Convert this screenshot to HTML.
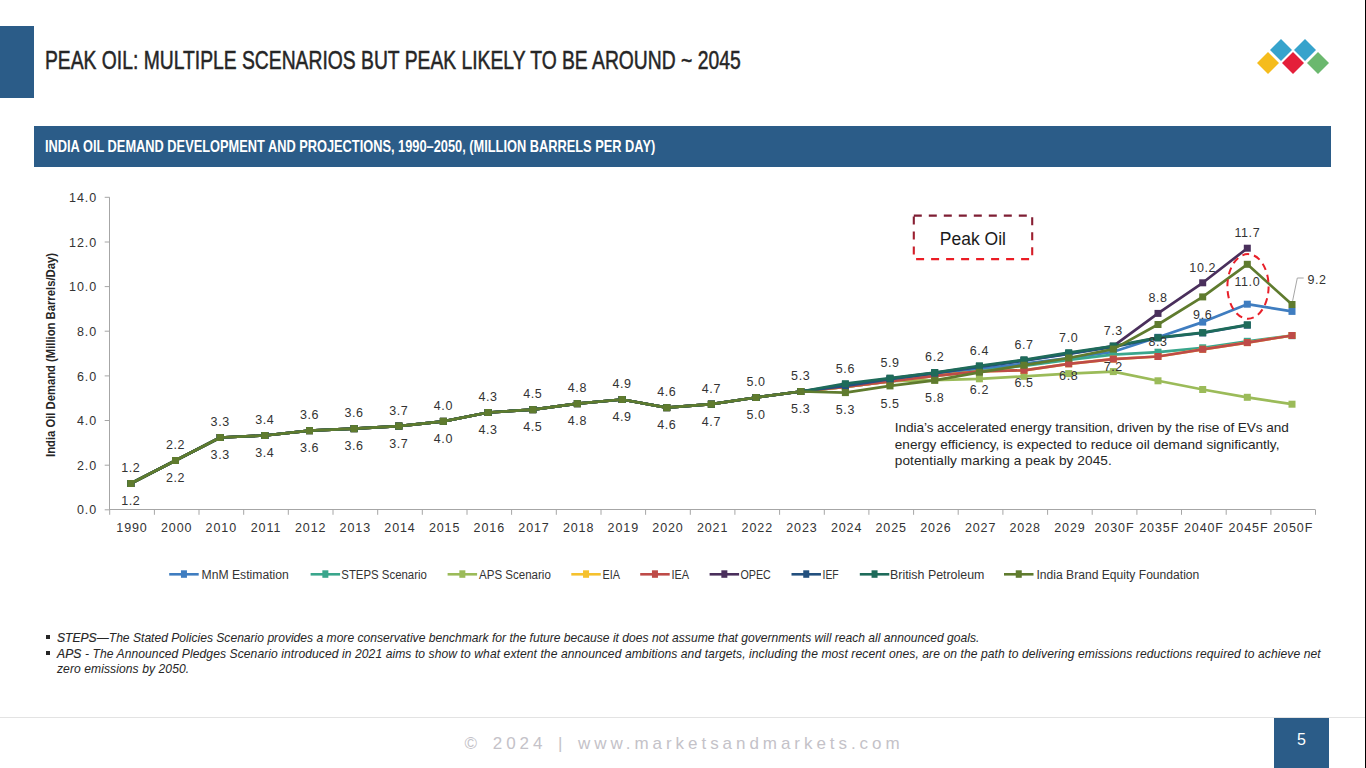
<!DOCTYPE html>
<html><head><meta charset="utf-8">
<style>
*{margin:0;padding:0;box-sizing:border-box}
html,body{width:1366px;height:768px;overflow:hidden;background:#fff}
body{position:relative;font-family:"Liberation Sans",sans-serif}
.abs{position:absolute;white-space:nowrap}
svg text{font-family:"Liberation Sans",sans-serif}
.ax{font-size:12.5px;fill:#333;letter-spacing:0.9px}
.dl{font-size:12.5px;fill:#333;letter-spacing:0.6px}
.lg{font-size:12px;fill:#333}
</style></head><body>
<div class="abs" style="left:0;top:26px;width:34px;height:72px;background:#2B5C88"></div>
<div class="abs" style="left:45.2px;top:46px;font-size:25px;line-height:29px;color:#262626;-webkit-text-stroke:0.5px #262626;transform:scaleX(0.772);transform-origin:0 0">PEAK OIL: MULTIPLE SCENARIOS BUT PEAK LIKELY TO BE AROUND ~ 2045</div>
<svg class="abs" style="left:1250px;top:32px" width="90" height="50" viewBox="1250 32 90 50">
<polygon points="1281,39 1292,50 1281,61 1270,50" fill="#36A3CC"/>
<polygon points="1305,39 1316,50 1305,61 1294,50" fill="#36A3CC"/>
<polygon points="1268,52 1279,63 1268,74 1257,63" fill="#F5BC1C"/>
<polygon points="1293,52 1304,63 1293,74 1282,63" fill="#E41F3A"/>
<polygon points="1318,52 1329,63 1318,74 1307,63" fill="#6BB86E"/>
</svg>
<div class="abs" style="left:34px;top:126px;width:1297px;height:41px;background:#2B5C88"></div>
<div class="abs" style="left:44.5px;top:136.7px;font-size:16.5px;line-height:19px;font-weight:bold;color:#fff;transform:scaleX(0.776);transform-origin:0 0">INDIA OIL DEMAND DEVELOPMENT AND PROJECTIONS, 1990–2050, (MILLION BARRELS PER DAY)</div>
<div class="abs" style="left:51px;top:354.6px;width:0;height:0"><div style="position:absolute;left:0;top:0;transform:translate(-50%,-50%) rotate(-90deg) scaleX(0.90);font-size:12.5px;line-height:14px;font-weight:bold;color:#262626;white-space:nowrap">India Oil Demand (Million Barrels/Day)</div></div>
<svg class="abs" style="left:0;top:0" width="1366" height="768" viewBox="0 0 1366 768">
<line x1="109.5" y1="197.3" x2="109.5" y2="509.8" stroke="#A6A6A6" stroke-width="1"/>
<line x1="109.7" y1="509.5" x2="1315.52" y2="509.5" stroke="#A6A6A6" stroke-width="1"/>
<line x1="104.7" y1="509.8" x2="109.7" y2="509.8" stroke="#A6A6A6" stroke-width="1"/>
<text x="97" y="514.4" text-anchor="end" class="ax">0.0</text>
<line x1="104.7" y1="465.2" x2="109.7" y2="465.2" stroke="#A6A6A6" stroke-width="1"/>
<text x="97" y="469.8" text-anchor="end" class="ax">2.0</text>
<line x1="104.7" y1="420.5" x2="109.7" y2="420.5" stroke="#A6A6A6" stroke-width="1"/>
<text x="97" y="425.1" text-anchor="end" class="ax">4.0</text>
<line x1="104.7" y1="375.9" x2="109.7" y2="375.9" stroke="#A6A6A6" stroke-width="1"/>
<text x="97" y="380.5" text-anchor="end" class="ax">6.0</text>
<line x1="104.7" y1="331.2" x2="109.7" y2="331.2" stroke="#A6A6A6" stroke-width="1"/>
<text x="97" y="335.8" text-anchor="end" class="ax">8.0</text>
<line x1="104.7" y1="286.6" x2="109.7" y2="286.6" stroke="#A6A6A6" stroke-width="1"/>
<text x="97" y="291.2" text-anchor="end" class="ax">10.0</text>
<line x1="104.7" y1="242.0" x2="109.7" y2="242.0" stroke="#A6A6A6" stroke-width="1"/>
<text x="97" y="246.6" text-anchor="end" class="ax">12.0</text>
<line x1="104.7" y1="197.3" x2="109.7" y2="197.3" stroke="#A6A6A6" stroke-width="1"/>
<text x="97" y="201.9" text-anchor="end" class="ax">14.0</text>
<line x1="109.7" y1="509.8" x2="109.7" y2="514.8" stroke="#A6A6A6" stroke-width="1"/>
<line x1="154.4" y1="509.8" x2="154.4" y2="514.8" stroke="#A6A6A6" stroke-width="1"/>
<line x1="199.0" y1="509.8" x2="199.0" y2="514.8" stroke="#A6A6A6" stroke-width="1"/>
<line x1="243.7" y1="509.8" x2="243.7" y2="514.8" stroke="#A6A6A6" stroke-width="1"/>
<line x1="288.3" y1="509.8" x2="288.3" y2="514.8" stroke="#A6A6A6" stroke-width="1"/>
<line x1="333.0" y1="509.8" x2="333.0" y2="514.8" stroke="#A6A6A6" stroke-width="1"/>
<line x1="377.7" y1="509.8" x2="377.7" y2="514.8" stroke="#A6A6A6" stroke-width="1"/>
<line x1="422.3" y1="509.8" x2="422.3" y2="514.8" stroke="#A6A6A6" stroke-width="1"/>
<line x1="467.0" y1="509.8" x2="467.0" y2="514.8" stroke="#A6A6A6" stroke-width="1"/>
<line x1="511.6" y1="509.8" x2="511.6" y2="514.8" stroke="#A6A6A6" stroke-width="1"/>
<line x1="556.3" y1="509.8" x2="556.3" y2="514.8" stroke="#A6A6A6" stroke-width="1"/>
<line x1="601.0" y1="509.8" x2="601.0" y2="514.8" stroke="#A6A6A6" stroke-width="1"/>
<line x1="645.6" y1="509.8" x2="645.6" y2="514.8" stroke="#A6A6A6" stroke-width="1"/>
<line x1="690.3" y1="509.8" x2="690.3" y2="514.8" stroke="#A6A6A6" stroke-width="1"/>
<line x1="734.9" y1="509.8" x2="734.9" y2="514.8" stroke="#A6A6A6" stroke-width="1"/>
<line x1="779.6" y1="509.8" x2="779.6" y2="514.8" stroke="#A6A6A6" stroke-width="1"/>
<line x1="824.3" y1="509.8" x2="824.3" y2="514.8" stroke="#A6A6A6" stroke-width="1"/>
<line x1="868.9" y1="509.8" x2="868.9" y2="514.8" stroke="#A6A6A6" stroke-width="1"/>
<line x1="913.6" y1="509.8" x2="913.6" y2="514.8" stroke="#A6A6A6" stroke-width="1"/>
<line x1="958.2" y1="509.8" x2="958.2" y2="514.8" stroke="#A6A6A6" stroke-width="1"/>
<line x1="1002.9" y1="509.8" x2="1002.9" y2="514.8" stroke="#A6A6A6" stroke-width="1"/>
<line x1="1047.6" y1="509.8" x2="1047.6" y2="514.8" stroke="#A6A6A6" stroke-width="1"/>
<line x1="1092.2" y1="509.8" x2="1092.2" y2="514.8" stroke="#A6A6A6" stroke-width="1"/>
<line x1="1136.9" y1="509.8" x2="1136.9" y2="514.8" stroke="#A6A6A6" stroke-width="1"/>
<line x1="1181.5" y1="509.8" x2="1181.5" y2="514.8" stroke="#A6A6A6" stroke-width="1"/>
<line x1="1226.2" y1="509.8" x2="1226.2" y2="514.8" stroke="#A6A6A6" stroke-width="1"/>
<line x1="1270.9" y1="509.8" x2="1270.9" y2="514.8" stroke="#A6A6A6" stroke-width="1"/>
<line x1="1315.5" y1="509.8" x2="1315.5" y2="514.8" stroke="#A6A6A6" stroke-width="1"/>
<text x="132.0" y="531.6" text-anchor="middle" class="ax">1990</text>
<text x="176.7" y="531.6" text-anchor="middle" class="ax">2000</text>
<text x="221.3" y="531.6" text-anchor="middle" class="ax">2010</text>
<text x="266.0" y="531.6" text-anchor="middle" class="ax">2011</text>
<text x="310.7" y="531.6" text-anchor="middle" class="ax">2012</text>
<text x="355.3" y="531.6" text-anchor="middle" class="ax">2013</text>
<text x="400.0" y="531.6" text-anchor="middle" class="ax">2014</text>
<text x="444.6" y="531.6" text-anchor="middle" class="ax">2015</text>
<text x="489.3" y="531.6" text-anchor="middle" class="ax">2016</text>
<text x="534.0" y="531.6" text-anchor="middle" class="ax">2017</text>
<text x="578.6" y="531.6" text-anchor="middle" class="ax">2018</text>
<text x="623.3" y="531.6" text-anchor="middle" class="ax">2019</text>
<text x="668.0" y="531.6" text-anchor="middle" class="ax">2020</text>
<text x="712.6" y="531.6" text-anchor="middle" class="ax">2021</text>
<text x="757.3" y="531.6" text-anchor="middle" class="ax">2022</text>
<text x="801.9" y="531.6" text-anchor="middle" class="ax">2023</text>
<text x="846.6" y="531.6" text-anchor="middle" class="ax">2024</text>
<text x="891.2" y="531.6" text-anchor="middle" class="ax">2025</text>
<text x="935.9" y="531.6" text-anchor="middle" class="ax">2026</text>
<text x="980.6" y="531.6" text-anchor="middle" class="ax">2027</text>
<text x="1025.2" y="531.6" text-anchor="middle" class="ax">2028</text>
<text x="1069.9" y="531.6" text-anchor="middle" class="ax">2029</text>
<text x="1114.5" y="531.6" text-anchor="middle" class="ax">2030F</text>
<text x="1159.2" y="531.6" text-anchor="middle" class="ax">2035F</text>
<text x="1203.9" y="531.6" text-anchor="middle" class="ax">2040F</text>
<text x="1248.5" y="531.6" text-anchor="middle" class="ax">2045F</text>
<text x="1293.2" y="531.6" text-anchor="middle" class="ax">2050F</text>
<polyline points="130.8,483.5 175.5,460.5 220.2,437.5 264.8,435.5 309.5,430.6 354.1,428.6 398.8,426.1 443.4,421.4 488.1,412.5 532.8,409.6 577.4,403.6 622.1,399.5 666.8,407.6 711.4,404.2 756.1,397.5 800.7,391.5 845.4,385.9 890.0,379.7 934.7,374.1 979.4,369.2 1024.0,363.6 1068.7,358.0 1113.3,351.8 1158.0,337.3 1202.7,322.1 1247.3,304.2 1292.0,311.4" fill="none" stroke="#3F7DC0" stroke-width="2.7" stroke-linejoin="round"/>
<rect x="127.3" y="480.0" width="7" height="7" fill="#3F7DC0"/>
<rect x="172.0" y="457.0" width="7" height="7" fill="#3F7DC0"/>
<rect x="216.7" y="434.0" width="7" height="7" fill="#3F7DC0"/>
<rect x="261.3" y="432.0" width="7" height="7" fill="#3F7DC0"/>
<rect x="306.0" y="427.1" width="7" height="7" fill="#3F7DC0"/>
<rect x="350.6" y="425.1" width="7" height="7" fill="#3F7DC0"/>
<rect x="395.3" y="422.6" width="7" height="7" fill="#3F7DC0"/>
<rect x="439.9" y="417.9" width="7" height="7" fill="#3F7DC0"/>
<rect x="484.6" y="409.0" width="7" height="7" fill="#3F7DC0"/>
<rect x="529.3" y="406.1" width="7" height="7" fill="#3F7DC0"/>
<rect x="573.9" y="400.1" width="7" height="7" fill="#3F7DC0"/>
<rect x="618.6" y="396.0" width="7" height="7" fill="#3F7DC0"/>
<rect x="663.2" y="404.1" width="7" height="7" fill="#3F7DC0"/>
<rect x="707.9" y="400.7" width="7" height="7" fill="#3F7DC0"/>
<rect x="752.6" y="394.0" width="7" height="7" fill="#3F7DC0"/>
<rect x="797.2" y="388.0" width="7" height="7" fill="#3F7DC0"/>
<rect x="841.9" y="382.4" width="7" height="7" fill="#3F7DC0"/>
<rect x="886.5" y="376.2" width="7" height="7" fill="#3F7DC0"/>
<rect x="931.2" y="370.6" width="7" height="7" fill="#3F7DC0"/>
<rect x="975.9" y="365.7" width="7" height="7" fill="#3F7DC0"/>
<rect x="1020.5" y="360.1" width="7" height="7" fill="#3F7DC0"/>
<rect x="1065.2" y="354.5" width="7" height="7" fill="#3F7DC0"/>
<rect x="1109.8" y="348.3" width="7" height="7" fill="#3F7DC0"/>
<rect x="1154.5" y="333.8" width="7" height="7" fill="#3F7DC0"/>
<rect x="1199.2" y="318.6" width="7" height="7" fill="#3F7DC0"/>
<rect x="1243.8" y="300.7" width="7" height="7" fill="#3F7DC0"/>
<rect x="1288.5" y="307.9" width="7" height="7" fill="#3F7DC0"/>
<polyline points="130.8,483.5 175.5,460.5 220.2,437.5 264.8,435.5 309.5,430.6 354.1,428.6 398.8,426.1 443.4,421.4 488.1,412.5 532.8,409.6 577.4,403.6 622.1,399.5 666.8,407.6 711.4,404.2 756.1,397.5 800.7,391.5 845.4,387.0 890.0,381.5 934.7,375.9 979.4,371.0 1024.0,365.8 1068.7,359.8 1113.3,354.7 1158.0,352.2 1202.7,347.8 1247.3,341.3 1292.0,335.7" fill="none" stroke="#3AA68C" stroke-width="2.7" stroke-linejoin="round"/>
<rect x="127.3" y="480.0" width="7" height="7" fill="#3AA68C"/>
<rect x="172.0" y="457.0" width="7" height="7" fill="#3AA68C"/>
<rect x="216.7" y="434.0" width="7" height="7" fill="#3AA68C"/>
<rect x="261.3" y="432.0" width="7" height="7" fill="#3AA68C"/>
<rect x="306.0" y="427.1" width="7" height="7" fill="#3AA68C"/>
<rect x="350.6" y="425.1" width="7" height="7" fill="#3AA68C"/>
<rect x="395.3" y="422.6" width="7" height="7" fill="#3AA68C"/>
<rect x="439.9" y="417.9" width="7" height="7" fill="#3AA68C"/>
<rect x="484.6" y="409.0" width="7" height="7" fill="#3AA68C"/>
<rect x="529.3" y="406.1" width="7" height="7" fill="#3AA68C"/>
<rect x="573.9" y="400.1" width="7" height="7" fill="#3AA68C"/>
<rect x="618.6" y="396.0" width="7" height="7" fill="#3AA68C"/>
<rect x="663.2" y="404.1" width="7" height="7" fill="#3AA68C"/>
<rect x="707.9" y="400.7" width="7" height="7" fill="#3AA68C"/>
<rect x="752.6" y="394.0" width="7" height="7" fill="#3AA68C"/>
<rect x="797.2" y="388.0" width="7" height="7" fill="#3AA68C"/>
<rect x="841.9" y="383.5" width="7" height="7" fill="#3AA68C"/>
<rect x="886.5" y="378.0" width="7" height="7" fill="#3AA68C"/>
<rect x="931.2" y="372.4" width="7" height="7" fill="#3AA68C"/>
<rect x="975.9" y="367.5" width="7" height="7" fill="#3AA68C"/>
<rect x="1020.5" y="362.3" width="7" height="7" fill="#3AA68C"/>
<rect x="1065.2" y="356.3" width="7" height="7" fill="#3AA68C"/>
<rect x="1109.8" y="351.2" width="7" height="7" fill="#3AA68C"/>
<rect x="1154.5" y="348.7" width="7" height="7" fill="#3AA68C"/>
<rect x="1199.2" y="344.3" width="7" height="7" fill="#3AA68C"/>
<rect x="1243.8" y="337.8" width="7" height="7" fill="#3AA68C"/>
<rect x="1288.5" y="332.2" width="7" height="7" fill="#3AA68C"/>
<polyline points="130.8,483.5 175.5,460.5 220.2,437.5 264.8,435.5 309.5,430.6 354.1,428.6 398.8,426.1 443.4,421.4 488.1,412.5 532.8,409.6 577.4,403.6 622.1,399.5 666.8,407.6 711.4,404.2 756.1,397.5 800.7,391.5 845.4,387.0 890.0,381.2 934.7,380.1 979.4,378.8 1024.0,376.3 1068.7,373.6 1113.3,371.6 1158.0,380.8 1202.7,389.5 1247.3,397.3 1292.0,404.2" fill="none" stroke="#9BBB59" stroke-width="2.7" stroke-linejoin="round"/>
<rect x="127.3" y="480.0" width="7" height="7" fill="#9BBB59"/>
<rect x="172.0" y="457.0" width="7" height="7" fill="#9BBB59"/>
<rect x="216.7" y="434.0" width="7" height="7" fill="#9BBB59"/>
<rect x="261.3" y="432.0" width="7" height="7" fill="#9BBB59"/>
<rect x="306.0" y="427.1" width="7" height="7" fill="#9BBB59"/>
<rect x="350.6" y="425.1" width="7" height="7" fill="#9BBB59"/>
<rect x="395.3" y="422.6" width="7" height="7" fill="#9BBB59"/>
<rect x="439.9" y="417.9" width="7" height="7" fill="#9BBB59"/>
<rect x="484.6" y="409.0" width="7" height="7" fill="#9BBB59"/>
<rect x="529.3" y="406.1" width="7" height="7" fill="#9BBB59"/>
<rect x="573.9" y="400.1" width="7" height="7" fill="#9BBB59"/>
<rect x="618.6" y="396.0" width="7" height="7" fill="#9BBB59"/>
<rect x="663.2" y="404.1" width="7" height="7" fill="#9BBB59"/>
<rect x="707.9" y="400.7" width="7" height="7" fill="#9BBB59"/>
<rect x="752.6" y="394.0" width="7" height="7" fill="#9BBB59"/>
<rect x="797.2" y="388.0" width="7" height="7" fill="#9BBB59"/>
<rect x="841.9" y="383.5" width="7" height="7" fill="#9BBB59"/>
<rect x="886.5" y="377.7" width="7" height="7" fill="#9BBB59"/>
<rect x="931.2" y="376.6" width="7" height="7" fill="#9BBB59"/>
<rect x="975.9" y="375.3" width="7" height="7" fill="#9BBB59"/>
<rect x="1020.5" y="372.8" width="7" height="7" fill="#9BBB59"/>
<rect x="1065.2" y="370.1" width="7" height="7" fill="#9BBB59"/>
<rect x="1109.8" y="368.1" width="7" height="7" fill="#9BBB59"/>
<rect x="1154.5" y="377.3" width="7" height="7" fill="#9BBB59"/>
<rect x="1199.2" y="386.0" width="7" height="7" fill="#9BBB59"/>
<rect x="1243.8" y="393.8" width="7" height="7" fill="#9BBB59"/>
<rect x="1288.5" y="400.7" width="7" height="7" fill="#9BBB59"/>
<polyline points="130.8,483.5 175.5,460.5 220.2,437.5 264.8,435.5 309.5,430.6 354.1,428.6 398.8,426.1 443.4,421.4 488.1,412.5 532.8,409.6 577.4,403.6 622.1,399.5 666.8,407.6 711.4,404.2 756.1,397.5 800.7,391.5 845.4,387.0 890.0,381.5 934.7,375.9 979.4,371.4 1024.0,370.3 1068.7,363.8 1113.3,359.1 1158.0,356.5 1202.7,349.3 1247.3,342.6 1292.0,335.5" fill="none" stroke="#F5C12E" stroke-width="2.7" stroke-linejoin="round"/>
<rect x="127.3" y="480.0" width="7" height="7" fill="#F5C12E"/>
<rect x="172.0" y="457.0" width="7" height="7" fill="#F5C12E"/>
<rect x="216.7" y="434.0" width="7" height="7" fill="#F5C12E"/>
<rect x="261.3" y="432.0" width="7" height="7" fill="#F5C12E"/>
<rect x="306.0" y="427.1" width="7" height="7" fill="#F5C12E"/>
<rect x="350.6" y="425.1" width="7" height="7" fill="#F5C12E"/>
<rect x="395.3" y="422.6" width="7" height="7" fill="#F5C12E"/>
<rect x="439.9" y="417.9" width="7" height="7" fill="#F5C12E"/>
<rect x="484.6" y="409.0" width="7" height="7" fill="#F5C12E"/>
<rect x="529.3" y="406.1" width="7" height="7" fill="#F5C12E"/>
<rect x="573.9" y="400.1" width="7" height="7" fill="#F5C12E"/>
<rect x="618.6" y="396.0" width="7" height="7" fill="#F5C12E"/>
<rect x="663.2" y="404.1" width="7" height="7" fill="#F5C12E"/>
<rect x="707.9" y="400.7" width="7" height="7" fill="#F5C12E"/>
<rect x="752.6" y="394.0" width="7" height="7" fill="#F5C12E"/>
<rect x="797.2" y="388.0" width="7" height="7" fill="#F5C12E"/>
<rect x="841.9" y="383.5" width="7" height="7" fill="#F5C12E"/>
<rect x="886.5" y="378.0" width="7" height="7" fill="#F5C12E"/>
<rect x="931.2" y="372.4" width="7" height="7" fill="#F5C12E"/>
<rect x="975.9" y="367.9" width="7" height="7" fill="#F5C12E"/>
<rect x="1020.5" y="366.8" width="7" height="7" fill="#F5C12E"/>
<rect x="1065.2" y="360.3" width="7" height="7" fill="#F5C12E"/>
<rect x="1109.8" y="355.6" width="7" height="7" fill="#F5C12E"/>
<rect x="1154.5" y="353.0" width="7" height="7" fill="#F5C12E"/>
<rect x="1199.2" y="345.8" width="7" height="7" fill="#F5C12E"/>
<rect x="1243.8" y="339.1" width="7" height="7" fill="#F5C12E"/>
<rect x="1288.5" y="332.0" width="7" height="7" fill="#F5C12E"/>
<polyline points="130.8,483.5 175.5,460.5 220.2,437.5 264.8,435.5 309.5,430.6 354.1,428.6 398.8,426.1 443.4,421.4 488.1,412.5 532.8,409.6 577.4,403.6 622.1,399.5 666.8,407.6 711.4,404.2 756.1,397.5 800.7,391.5 845.4,387.0 890.0,381.5 934.7,375.9 979.4,371.4 1024.0,370.3 1068.7,363.8 1113.3,359.1 1158.0,356.5 1202.7,349.3 1247.3,342.6 1292.0,335.5" fill="none" stroke="#BE4B48" stroke-width="2.7" stroke-linejoin="round"/>
<rect x="127.3" y="480.0" width="7" height="7" fill="#BE4B48"/>
<rect x="172.0" y="457.0" width="7" height="7" fill="#BE4B48"/>
<rect x="216.7" y="434.0" width="7" height="7" fill="#BE4B48"/>
<rect x="261.3" y="432.0" width="7" height="7" fill="#BE4B48"/>
<rect x="306.0" y="427.1" width="7" height="7" fill="#BE4B48"/>
<rect x="350.6" y="425.1" width="7" height="7" fill="#BE4B48"/>
<rect x="395.3" y="422.6" width="7" height="7" fill="#BE4B48"/>
<rect x="439.9" y="417.9" width="7" height="7" fill="#BE4B48"/>
<rect x="484.6" y="409.0" width="7" height="7" fill="#BE4B48"/>
<rect x="529.3" y="406.1" width="7" height="7" fill="#BE4B48"/>
<rect x="573.9" y="400.1" width="7" height="7" fill="#BE4B48"/>
<rect x="618.6" y="396.0" width="7" height="7" fill="#BE4B48"/>
<rect x="663.2" y="404.1" width="7" height="7" fill="#BE4B48"/>
<rect x="707.9" y="400.7" width="7" height="7" fill="#BE4B48"/>
<rect x="752.6" y="394.0" width="7" height="7" fill="#BE4B48"/>
<rect x="797.2" y="388.0" width="7" height="7" fill="#BE4B48"/>
<rect x="841.9" y="383.5" width="7" height="7" fill="#BE4B48"/>
<rect x="886.5" y="378.0" width="7" height="7" fill="#BE4B48"/>
<rect x="931.2" y="372.4" width="7" height="7" fill="#BE4B48"/>
<rect x="975.9" y="367.9" width="7" height="7" fill="#BE4B48"/>
<rect x="1020.5" y="366.8" width="7" height="7" fill="#BE4B48"/>
<rect x="1065.2" y="360.3" width="7" height="7" fill="#BE4B48"/>
<rect x="1109.8" y="355.6" width="7" height="7" fill="#BE4B48"/>
<rect x="1154.5" y="353.0" width="7" height="7" fill="#BE4B48"/>
<rect x="1199.2" y="345.8" width="7" height="7" fill="#BE4B48"/>
<rect x="1243.8" y="339.1" width="7" height="7" fill="#BE4B48"/>
<rect x="1288.5" y="332.0" width="7" height="7" fill="#BE4B48"/>
<polyline points="130.8,483.5 175.5,460.5 220.2,437.5 264.8,435.5 309.5,430.6 354.1,428.6 398.8,426.1 443.4,421.4 488.1,412.5 532.8,409.6 577.4,403.6 622.1,399.5 666.8,407.6 711.4,404.2 756.1,397.5 800.7,391.5 845.4,384.8 890.0,378.6 934.7,372.8 979.4,366.5 1024.0,360.3 1068.7,353.6 1113.3,346.2 1158.0,313.4 1202.7,282.8 1247.3,248.2" fill="none" stroke="#4A2F5C" stroke-width="2.7" stroke-linejoin="round"/>
<rect x="127.3" y="480.0" width="7" height="7" fill="#4A2F5C"/>
<rect x="172.0" y="457.0" width="7" height="7" fill="#4A2F5C"/>
<rect x="216.7" y="434.0" width="7" height="7" fill="#4A2F5C"/>
<rect x="261.3" y="432.0" width="7" height="7" fill="#4A2F5C"/>
<rect x="306.0" y="427.1" width="7" height="7" fill="#4A2F5C"/>
<rect x="350.6" y="425.1" width="7" height="7" fill="#4A2F5C"/>
<rect x="395.3" y="422.6" width="7" height="7" fill="#4A2F5C"/>
<rect x="439.9" y="417.9" width="7" height="7" fill="#4A2F5C"/>
<rect x="484.6" y="409.0" width="7" height="7" fill="#4A2F5C"/>
<rect x="529.3" y="406.1" width="7" height="7" fill="#4A2F5C"/>
<rect x="573.9" y="400.1" width="7" height="7" fill="#4A2F5C"/>
<rect x="618.6" y="396.0" width="7" height="7" fill="#4A2F5C"/>
<rect x="663.2" y="404.1" width="7" height="7" fill="#4A2F5C"/>
<rect x="707.9" y="400.7" width="7" height="7" fill="#4A2F5C"/>
<rect x="752.6" y="394.0" width="7" height="7" fill="#4A2F5C"/>
<rect x="797.2" y="388.0" width="7" height="7" fill="#4A2F5C"/>
<rect x="841.9" y="381.3" width="7" height="7" fill="#4A2F5C"/>
<rect x="886.5" y="375.1" width="7" height="7" fill="#4A2F5C"/>
<rect x="931.2" y="369.3" width="7" height="7" fill="#4A2F5C"/>
<rect x="975.9" y="363.0" width="7" height="7" fill="#4A2F5C"/>
<rect x="1020.5" y="356.8" width="7" height="7" fill="#4A2F5C"/>
<rect x="1065.2" y="350.1" width="7" height="7" fill="#4A2F5C"/>
<rect x="1109.8" y="342.7" width="7" height="7" fill="#4A2F5C"/>
<rect x="1154.5" y="309.9" width="7" height="7" fill="#4A2F5C"/>
<rect x="1199.2" y="279.3" width="7" height="7" fill="#4A2F5C"/>
<rect x="1243.8" y="244.7" width="7" height="7" fill="#4A2F5C"/>
<polyline points="130.8,483.5 175.5,460.5 220.2,437.5 264.8,435.5 309.5,430.6 354.1,428.6 398.8,426.1 443.4,421.4 488.1,412.5 532.8,409.6 577.4,403.6 622.1,399.5 666.8,407.6 711.4,404.2 756.1,397.5 800.7,391.5 845.4,385.9 890.0,379.2 934.7,373.2 979.4,367.0 1024.0,360.7 1068.7,354.0 1113.3,346.9 1158.0,337.9 1202.7,333.0 1247.3,325.2" fill="none" stroke="#23507E" stroke-width="2.7" stroke-linejoin="round"/>
<rect x="127.3" y="480.0" width="7" height="7" fill="#23507E"/>
<rect x="172.0" y="457.0" width="7" height="7" fill="#23507E"/>
<rect x="216.7" y="434.0" width="7" height="7" fill="#23507E"/>
<rect x="261.3" y="432.0" width="7" height="7" fill="#23507E"/>
<rect x="306.0" y="427.1" width="7" height="7" fill="#23507E"/>
<rect x="350.6" y="425.1" width="7" height="7" fill="#23507E"/>
<rect x="395.3" y="422.6" width="7" height="7" fill="#23507E"/>
<rect x="439.9" y="417.9" width="7" height="7" fill="#23507E"/>
<rect x="484.6" y="409.0" width="7" height="7" fill="#23507E"/>
<rect x="529.3" y="406.1" width="7" height="7" fill="#23507E"/>
<rect x="573.9" y="400.1" width="7" height="7" fill="#23507E"/>
<rect x="618.6" y="396.0" width="7" height="7" fill="#23507E"/>
<rect x="663.2" y="404.1" width="7" height="7" fill="#23507E"/>
<rect x="707.9" y="400.7" width="7" height="7" fill="#23507E"/>
<rect x="752.6" y="394.0" width="7" height="7" fill="#23507E"/>
<rect x="797.2" y="388.0" width="7" height="7" fill="#23507E"/>
<rect x="841.9" y="382.4" width="7" height="7" fill="#23507E"/>
<rect x="886.5" y="375.7" width="7" height="7" fill="#23507E"/>
<rect x="931.2" y="369.7" width="7" height="7" fill="#23507E"/>
<rect x="975.9" y="363.5" width="7" height="7" fill="#23507E"/>
<rect x="1020.5" y="357.2" width="7" height="7" fill="#23507E"/>
<rect x="1065.2" y="350.5" width="7" height="7" fill="#23507E"/>
<rect x="1109.8" y="343.4" width="7" height="7" fill="#23507E"/>
<rect x="1154.5" y="334.4" width="7" height="7" fill="#23507E"/>
<rect x="1199.2" y="329.5" width="7" height="7" fill="#23507E"/>
<rect x="1243.8" y="321.7" width="7" height="7" fill="#23507E"/>
<polyline points="130.8,483.5 175.5,460.5 220.2,437.5 264.8,435.5 309.5,430.6 354.1,428.6 398.8,426.1 443.4,421.4 488.1,412.5 532.8,409.6 577.4,403.6 622.1,399.5 666.8,407.6 711.4,404.2 756.1,397.5 800.7,391.5 845.4,383.7 890.0,378.1 934.7,372.5 979.4,365.8 1024.0,359.8 1068.7,352.7 1113.3,346.0 1158.0,337.7 1202.7,332.6 1247.3,324.8" fill="none" stroke="#1E6B5A" stroke-width="2.7" stroke-linejoin="round"/>
<rect x="127.3" y="480.0" width="7" height="7" fill="#1E6B5A"/>
<rect x="172.0" y="457.0" width="7" height="7" fill="#1E6B5A"/>
<rect x="216.7" y="434.0" width="7" height="7" fill="#1E6B5A"/>
<rect x="261.3" y="432.0" width="7" height="7" fill="#1E6B5A"/>
<rect x="306.0" y="427.1" width="7" height="7" fill="#1E6B5A"/>
<rect x="350.6" y="425.1" width="7" height="7" fill="#1E6B5A"/>
<rect x="395.3" y="422.6" width="7" height="7" fill="#1E6B5A"/>
<rect x="439.9" y="417.9" width="7" height="7" fill="#1E6B5A"/>
<rect x="484.6" y="409.0" width="7" height="7" fill="#1E6B5A"/>
<rect x="529.3" y="406.1" width="7" height="7" fill="#1E6B5A"/>
<rect x="573.9" y="400.1" width="7" height="7" fill="#1E6B5A"/>
<rect x="618.6" y="396.0" width="7" height="7" fill="#1E6B5A"/>
<rect x="663.2" y="404.1" width="7" height="7" fill="#1E6B5A"/>
<rect x="707.9" y="400.7" width="7" height="7" fill="#1E6B5A"/>
<rect x="752.6" y="394.0" width="7" height="7" fill="#1E6B5A"/>
<rect x="797.2" y="388.0" width="7" height="7" fill="#1E6B5A"/>
<rect x="841.9" y="380.2" width="7" height="7" fill="#1E6B5A"/>
<rect x="886.5" y="374.6" width="7" height="7" fill="#1E6B5A"/>
<rect x="931.2" y="369.0" width="7" height="7" fill="#1E6B5A"/>
<rect x="975.9" y="362.3" width="7" height="7" fill="#1E6B5A"/>
<rect x="1020.5" y="356.3" width="7" height="7" fill="#1E6B5A"/>
<rect x="1065.2" y="349.2" width="7" height="7" fill="#1E6B5A"/>
<rect x="1109.8" y="342.5" width="7" height="7" fill="#1E6B5A"/>
<rect x="1154.5" y="334.2" width="7" height="7" fill="#1E6B5A"/>
<rect x="1199.2" y="329.1" width="7" height="7" fill="#1E6B5A"/>
<rect x="1243.8" y="321.3" width="7" height="7" fill="#1E6B5A"/>
<polyline points="130.8,483.5 175.5,460.5 220.2,437.5 264.8,435.5 309.5,430.6 354.1,428.6 398.8,426.1 443.4,421.4 488.1,412.5 532.8,409.6 577.4,403.6 622.1,399.5 666.8,407.6 711.4,404.2 756.1,397.5 800.7,391.5 845.4,392.6 890.0,385.9 934.7,380.3 979.4,372.3 1024.0,365.2 1068.7,358.0 1113.3,349.1 1158.0,324.5 1202.7,296.9 1247.3,264.3 1292.0,304.5" fill="none" stroke="#5F7B2E" stroke-width="2.7" stroke-linejoin="round"/>
<rect x="127.3" y="480.0" width="7" height="7" fill="#5F7B2E"/>
<rect x="172.0" y="457.0" width="7" height="7" fill="#5F7B2E"/>
<rect x="216.7" y="434.0" width="7" height="7" fill="#5F7B2E"/>
<rect x="261.3" y="432.0" width="7" height="7" fill="#5F7B2E"/>
<rect x="306.0" y="427.1" width="7" height="7" fill="#5F7B2E"/>
<rect x="350.6" y="425.1" width="7" height="7" fill="#5F7B2E"/>
<rect x="395.3" y="422.6" width="7" height="7" fill="#5F7B2E"/>
<rect x="439.9" y="417.9" width="7" height="7" fill="#5F7B2E"/>
<rect x="484.6" y="409.0" width="7" height="7" fill="#5F7B2E"/>
<rect x="529.3" y="406.1" width="7" height="7" fill="#5F7B2E"/>
<rect x="573.9" y="400.1" width="7" height="7" fill="#5F7B2E"/>
<rect x="618.6" y="396.0" width="7" height="7" fill="#5F7B2E"/>
<rect x="663.2" y="404.1" width="7" height="7" fill="#5F7B2E"/>
<rect x="707.9" y="400.7" width="7" height="7" fill="#5F7B2E"/>
<rect x="752.6" y="394.0" width="7" height="7" fill="#5F7B2E"/>
<rect x="797.2" y="388.0" width="7" height="7" fill="#5F7B2E"/>
<rect x="841.9" y="389.1" width="7" height="7" fill="#5F7B2E"/>
<rect x="886.5" y="382.4" width="7" height="7" fill="#5F7B2E"/>
<rect x="931.2" y="376.8" width="7" height="7" fill="#5F7B2E"/>
<rect x="975.9" y="368.8" width="7" height="7" fill="#5F7B2E"/>
<rect x="1020.5" y="361.7" width="7" height="7" fill="#5F7B2E"/>
<rect x="1065.2" y="354.5" width="7" height="7" fill="#5F7B2E"/>
<rect x="1109.8" y="345.6" width="7" height="7" fill="#5F7B2E"/>
<rect x="1154.5" y="321.0" width="7" height="7" fill="#5F7B2E"/>
<rect x="1199.2" y="293.4" width="7" height="7" fill="#5F7B2E"/>
<rect x="1243.8" y="260.8" width="7" height="7" fill="#5F7B2E"/>
<rect x="1288.5" y="301.0" width="7" height="7" fill="#5F7B2E"/>
<text x="130.8" y="472.3" text-anchor="middle" class="dl">1.2</text>
<text x="175.5" y="449.3" text-anchor="middle" class="dl">2.2</text>
<text x="220.2" y="426.3" text-anchor="middle" class="dl">3.3</text>
<text x="264.8" y="424.3" text-anchor="middle" class="dl">3.4</text>
<text x="309.5" y="419.4" text-anchor="middle" class="dl">3.6</text>
<text x="354.1" y="417.4" text-anchor="middle" class="dl">3.6</text>
<text x="398.8" y="414.9" text-anchor="middle" class="dl">3.7</text>
<text x="443.4" y="410.2" text-anchor="middle" class="dl">4.0</text>
<text x="488.1" y="401.3" text-anchor="middle" class="dl">4.3</text>
<text x="532.8" y="398.4" text-anchor="middle" class="dl">4.5</text>
<text x="577.4" y="392.4" text-anchor="middle" class="dl">4.8</text>
<text x="622.1" y="388.3" text-anchor="middle" class="dl">4.9</text>
<text x="666.8" y="396.4" text-anchor="middle" class="dl">4.6</text>
<text x="711.4" y="393.0" text-anchor="middle" class="dl">4.7</text>
<text x="756.1" y="386.3" text-anchor="middle" class="dl">5.0</text>
<text x="800.7" y="380.3" text-anchor="middle" class="dl">5.3</text>
<text x="845.4" y="372.5" text-anchor="middle" class="dl">5.6</text>
<text x="890.0" y="366.9" text-anchor="middle" class="dl">5.9</text>
<text x="934.7" y="361.3" text-anchor="middle" class="dl">6.2</text>
<text x="979.4" y="354.6" text-anchor="middle" class="dl">6.4</text>
<text x="1024.0" y="348.6" text-anchor="middle" class="dl">6.7</text>
<text x="1068.7" y="341.5" text-anchor="middle" class="dl">7.0</text>
<text x="1113.3" y="334.8" text-anchor="middle" class="dl">7.3</text>
<text x="1158.0" y="302.2" text-anchor="middle" class="dl">8.8</text>
<text x="1202.7" y="271.6" text-anchor="middle" class="dl">10.2</text>
<text x="1247.3" y="237.0" text-anchor="middle" class="dl">11.7</text>
<text x="130.8" y="505.2" text-anchor="middle" class="dl">1.2</text>
<text x="175.5" y="482.2" text-anchor="middle" class="dl">2.2</text>
<text x="220.2" y="459.2" text-anchor="middle" class="dl">3.3</text>
<text x="264.8" y="457.2" text-anchor="middle" class="dl">3.4</text>
<text x="309.5" y="452.3" text-anchor="middle" class="dl">3.6</text>
<text x="354.1" y="450.3" text-anchor="middle" class="dl">3.6</text>
<text x="398.8" y="447.8" text-anchor="middle" class="dl">3.7</text>
<text x="443.4" y="443.1" text-anchor="middle" class="dl">4.0</text>
<text x="488.1" y="434.2" text-anchor="middle" class="dl">4.3</text>
<text x="532.8" y="431.3" text-anchor="middle" class="dl">4.5</text>
<text x="577.4" y="425.3" text-anchor="middle" class="dl">4.8</text>
<text x="622.1" y="421.2" text-anchor="middle" class="dl">4.9</text>
<text x="666.8" y="429.3" text-anchor="middle" class="dl">4.6</text>
<text x="711.4" y="425.9" text-anchor="middle" class="dl">4.7</text>
<text x="756.1" y="419.2" text-anchor="middle" class="dl">5.0</text>
<text x="800.7" y="413.2" text-anchor="middle" class="dl">5.3</text>
<text x="845.4" y="414.3" text-anchor="middle" class="dl">5.3</text>
<text x="890.0" y="407.6" text-anchor="middle" class="dl">5.5</text>
<text x="934.7" y="402.0" text-anchor="middle" class="dl">5.8</text>
<text x="979.4" y="394.0" text-anchor="middle" class="dl">6.2</text>
<text x="1024.0" y="386.9" text-anchor="middle" class="dl">6.5</text>
<text x="1068.7" y="379.7" text-anchor="middle" class="dl">6.8</text>
<text x="1113.3" y="370.8" text-anchor="middle" class="dl">7.2</text>
<text x="1158.0" y="346.2" text-anchor="middle" class="dl">8.3</text>
<text x="1202.7" y="318.6" text-anchor="middle" class="dl">9.6</text>
<text x="1247.3" y="286.0" text-anchor="middle" class="dl">11.0</text>
<polyline points="1292.6,300.9 1297.3,278 1303.7,278" fill="none" stroke="#A6A6A6" stroke-width="1"/>
<text x="1317" y="284" text-anchor="middle" class="dl">9.2</text>
<ellipse cx="1248" cy="286.4" rx="20.6" ry="32.3" fill="none" stroke="#E8202A" stroke-width="2" stroke-dasharray="7 5"/>
<line x1="169.2" y1="574.3" x2="198.7" y2="574.3" stroke="#3F7DC0" stroke-width="2.6"/>
<rect x="180.95" y="570.3" width="6" height="7.5" fill="#3F7DC0"/>
<text x="201.6" y="578.6" class="lg" textLength="87.2" lengthAdjust="spacingAndGlyphs">MnM Estimation</text>
<line x1="310.6" y1="574.3" x2="340.1" y2="574.3" stroke="#3AA68C" stroke-width="2.6"/>
<rect x="322.35" y="570.3" width="6" height="7.5" fill="#3AA68C"/>
<text x="341.3" y="578.6" class="lg" textLength="85.6" lengthAdjust="spacingAndGlyphs">STEPS Scenario</text>
<line x1="447.6" y1="574.3" x2="477.1" y2="574.3" stroke="#9BBB59" stroke-width="2.6"/>
<rect x="459.35" y="570.3" width="6" height="7.5" fill="#9BBB59"/>
<text x="479" y="578.6" class="lg" textLength="71.8" lengthAdjust="spacingAndGlyphs">APS Scenario</text>
<line x1="571.3" y1="574.3" x2="600.8" y2="574.3" stroke="#F5C12E" stroke-width="2.6"/>
<rect x="583.05" y="570.3" width="6" height="7.5" fill="#F5C12E"/>
<text x="602.5" y="578.6" class="lg" textLength="17.5" lengthAdjust="spacingAndGlyphs">EIA</text>
<line x1="640.2" y1="574.3" x2="669.7" y2="574.3" stroke="#BE4B48" stroke-width="2.6"/>
<rect x="651.95" y="570.3" width="6" height="7.5" fill="#BE4B48"/>
<text x="671.5" y="578.6" class="lg" textLength="17.6" lengthAdjust="spacingAndGlyphs">IEA</text>
<line x1="709.6" y1="574.3" x2="739.1" y2="574.3" stroke="#4A2F5C" stroke-width="2.6"/>
<rect x="721.35" y="570.3" width="6" height="7.5" fill="#4A2F5C"/>
<text x="740.5" y="578.6" class="lg" textLength="30.3" lengthAdjust="spacingAndGlyphs">OPEC</text>
<line x1="791.5" y1="574.3" x2="821.0" y2="574.3" stroke="#23507E" stroke-width="2.6"/>
<rect x="803.25" y="570.3" width="6" height="7.5" fill="#23507E"/>
<text x="822.5" y="578.6" class="lg" textLength="16.2" lengthAdjust="spacingAndGlyphs">IEF</text>
<line x1="859.8" y1="574.3" x2="889.3" y2="574.3" stroke="#1E6B5A" stroke-width="2.6"/>
<rect x="871.55" y="570.3" width="6" height="7.5" fill="#1E6B5A"/>
<text x="890" y="578.6" class="lg" textLength="94.4" lengthAdjust="spacingAndGlyphs">British Petroleum</text>
<line x1="1004" y1="574.3" x2="1033.5" y2="574.3" stroke="#5F7B2E" stroke-width="2.6"/>
<rect x="1015.75" y="570.3" width="6" height="7.5" fill="#5F7B2E"/>
<text x="1036.5" y="578.6" class="lg" textLength="162.8" lengthAdjust="spacingAndGlyphs">India Brand Equity Foundation</text>
</svg>
<svg class="abs" style="left:900px;top:205px" width="145" height="65" viewBox="900 205 145 65">
<defs><linearGradient id="pg" x1="0" y1="0" x2="0" y2="1"><stop offset="0" stop-color="#7E1E34"/><stop offset="0.45" stop-color="#9A2030"/><stop offset="1" stop-color="#EC1C24"/></linearGradient></defs>
<rect x="913.8" y="215.6" width="118.4" height="43.5" fill="none" stroke="url(#pg)" stroke-width="2.1" stroke-dasharray="8 7"/>
</svg>
<div class="abs" style="left:939.8px;top:229px;font-size:17.5px;line-height:21px;color:#1a1a1a">Peak Oil</div>
<div class="abs" style="left:894.8px;top:420px;font-size:13.6px;line-height:16.6px;color:#262626"><span style="letter-spacing:-0.07px">India’s accelerated energy transition, driven by the rise of EVs and</span><br>energy efficiency, is expected to reduce oil demand significantly,<br><span style="letter-spacing:0.09px">potentially marking a peak by 2045.</span></div>
<div class="abs" style="left:46px;top:635px;width:3.5px;height:3.5px;background:#262626"></div>
<div class="abs" style="left:46px;top:651px;width:3.5px;height:3.5px;background:#262626"></div>
<div class="abs" style="left:57px;top:631px;font-size:12.1px;line-height:15.6px;color:#262626;font-style:italic"><span style="-webkit-text-stroke:0.2px #262626">STEPS</span>—The Stated Policies Scenario provides a more conservative benchmark for the future because it does not assume that governments will reach all announced goals.</div>
<div class="abs" style="left:57px;top:646.6px;font-size:12.1px;line-height:15.6px;color:#262626;font-style:italic;letter-spacing:0.078px"><span style="-webkit-text-stroke:0.2px #262626">APS</span> - The Announced Pledges Scenario introduced in 2021 aims to show to what extent the announced ambitions and targets, including the most recent ones, are on the path to delivering emissions reductions required to achieve net<br>zero emissions by 2050.</div>
<div class="abs" style="left:0;top:717px;width:1366px;height:1px;background:#E3E3E3"></div>
<div class="abs" style="left:464.6px;top:734px;font-size:17px;line-height:20px;color:#C4C2C8;letter-spacing:3.95px;word-spacing:3px">© 2024 | www.marketsandmarkets.com</div>
<div class="abs" style="left:1274px;top:717.5px;width:55px;height:51px;background:#2B5C88"></div>
<div class="abs" style="left:1274px;top:731px;width:55px;text-align:center;font-size:16px;line-height:18px;color:#fff">5</div>
<div class="abs" style="left:1365px;top:0;width:1px;height:768px;background:#000"></div>
</body></html>
